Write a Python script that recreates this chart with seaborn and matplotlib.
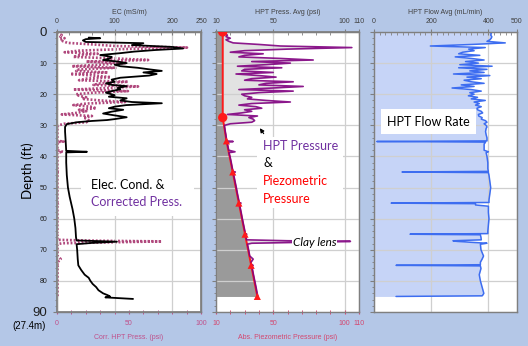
import matplotlib
matplotlib.use("Agg")
import matplotlib.pyplot as plt
from matplotlib.patches import Rectangle
from matplotlib.ticker import MultipleLocator, FixedLocator
import numpy as np
import pandas as pd
import seaborn as sns

# ---------------------------------------------------------------- HPT log (ft)
hpt_depth = [0.0, 0.5, 1.0, 1.5, 2.0, 2.5, 3.0, 3.5, 4.0, 4.5, 5.0, 5.5, 6.0, 6.5,
             7.0, 7.5, 8.0, 8.5, 9.0, 9.5, 10.0, 10.5, 11.0, 11.5, 12.0, 12.5,
             13.0, 13.5, 14.0, 14.5, 15.0, 15.5, 16.0, 16.5, 17.0, 17.5, 18.0,
             18.5, 19.0, 19.5, 20.0, 20.5, 21.0, 21.5, 22.0, 22.5, 23.0, 23.5,
             24.0, 24.5, 25.0, 25.5, 26.0, 26.5, 27.0, 27.5, 28.0, 28.5, 29.0,
             29.5, 30.0,
             30.5, 31.0, 32.0, 33.0, 34.0, 35.0, 35.2, 35.4, 36.0, 38.0, 38.5,
             38.8, 40.0, 42.0, 44.0, 44.8, 45.0, 45.2, 46.0, 48.0, 50.0, 52.0,
             54.0, 54.8, 55.0, 55.2, 55.6, 56.0, 58.0, 60.0, 62.0, 64.0, 64.8,
             65.0, 65.2, 66.0, 66.8, 67.1, 67.3, 67.6, 67.9, 68.2, 70.0, 72.0,
             73.0, 74.0, 74.8, 75.0, 75.2, 76.0, 78.0, 80.0, 82.0, 84.0, 84.6,
             84.8, 85.0]

# HPT pressure average (psi)
hpt_press = [15.0, 16, 18, 17, 20, 17, 19, 22, 40, 55, 105, 60, 30, 20,
             43, 30, 26, 55, 78, 35, 62, 45, 25, 56, 30, 28,
             50, 24, 40, 52, 35, 30, 64, 45, 40, 71, 50,
             26, 64, 40, 28, 30, 35, 32, 45, 62, 35, 26,
             38, 42, 30, 35, 28, 18, 39, 33, 36, 37, 35,
             20, 16.0,
             16.0, 16.2, 16.5, 16.9, 17.2, 17.6, 22.0, 17.7, 18.0, 18.9, 23.3,
             19.0, 19.8, 20.7, 21.5, 21.9, 23.5, 22.0, 22.4, 23.3, 24.2, 25.0,
             25.9, 26.2, 27.5, 26.4, 26.5, 26.7, 27.6, 28.4, 29.3, 30.2, 30.5,
             31.5, 30.7, 31.0, 31.4, 60.0, 104.0, 70.0, 35.0, 32.0, 32.8, 33.6,
             36.0, 34.5, 34.8, 36.0, 35.0, 35.4, 36.2, 37.1, 38.0, 38.8, 39.1,
             39.2, 39.4]

# Corrected HPT pressure (psi)
corr_press = [0.3, 1.3, 3.3, 2.3, 5.3, 2.3, 4.3, 7.3, 25.3, 40.3, 90.3, 45.3, 15.3, 5.3,
              28.3, 15.3, 11.3, 40.3, 63.3, 20.3, 47.3, 30.3, 10.3, 41.3, 15.3, 13.3,
              35.3, 9.3, 25.3, 37.3, 20.3, 15.3, 49.3, 30.3, 25.3, 56.3, 35.3,
              11.3, 49.3, 25.3, 13.3, 15.3, 20.3, 17.3, 30.3, 47.3, 20.3, 11.3,
              23.3, 27.3, 15.3, 20.3, 13.3, 3.3, 24.3, 18.3, 21.3, 22.3, 20.3,
              5.0, 0.9,
              0.3, 0.3, 0.3, 0.3, 0.3, 0.3, 4.7, 0.3, 0.3, 0.3, 4.2,
              0.3, 0.3, 0.3, 0.3, 0.3, 1.8, 0.3, 0.3, 0.3, 0.3, 0.3,
              0.3, 0.3, 1.5, 0.3, 0.3, 0.3, 0.3, 0.3, 0.3, 0.3, 0.3,
              1.2, 0.3, 0.3, 0.3, 28.8, 72.7, 38.6, 3.5, 0.4, 0.4, 0.4,
              2.6, 0.4, 0.4, 1.6, 0.4, 0.4, 0.4, 0.4, 0.4, 0.4, 0.4,
              0.4, 0.4]

# HPT flow average (mL/min)
flow_rate = [405, 410, 408, 412, 410, 405, 395, 459, 343, 197, 389, 331, 350, 310,
             296, 370, 284, 340, 385, 320, 365, 300, 413, 296, 395, 335,
             385, 278, 405, 325, 375, 315, 340, 385, 305, 350, 273,
             340, 375, 335, 350, 330, 362, 340, 389, 350, 368, 355,
             375, 360, 362, 375, 380, 365, 366, 378, 375, 390, 395,
             385, 392,
             395, 392, 390, 392, 395, 395, 10, 390, 385, 385, 400,
             392, 395, 398, 398, 400, 98, 400, 402, 405, 408, 405,
             402, 402, 60, 355, 355, 400, 400, 402, 400, 398, 398,
             126, 372, 374, 375, 276, 290, 340, 395, 372, 374, 383,
             378, 372, 372, 77, 372, 374, 368, 372, 378, 384, 380,
             378, 77]

# ---------------------------------------------------- electrical conductivity
ec_depth = [1.8, 2.0, 2.3, 2.7, 3.2, 3.6, 4.2, 4.8, 5.3, 5.8, 6.3, 6.8, 7.4, 8.0,
            8.5, 9.0, 9.5, 10.0, 10.5, 11.0, 11.5, 12.0, 12.5, 13.0, 13.5, 14.0,
            14.7, 15.3, 16.0, 16.5, 17.0, 17.4, 18.0, 18.4, 19.0, 19.5, 20.3,
            20.8, 21.3, 22.0, 22.5, 22.9, 23.5, 24.0, 24.5, 25.0, 25.6, 26.2,
            26.8, 27.4, 28.0, 28.3, 28.6, 29.0, 29.6, 30.5, 32.0, 35.0, 38.2,
            38.5, 38.7, 42.0, 46.0, 50.0, 53.0, 57.0, 60.0, 63.0, 66.0, 67.0,
            67.4, 67.8, 68.2, 70.0, 73.0, 75.0, 76.5, 78.0, 79.0, 80.0, 81.0,
            82.0, 83.0, 84.0, 84.6, 85.0, 85.3, 85.8]
ec_value = [55, 75, 50, 45, 50, 150, 130, 200, 219, 170, 134, 110, 75, 95,
            92, 80, 105, 121, 100, 110, 140, 160, 182, 150, 173, 160,
            110, 95, 100, 85, 95, 121, 105, 110, 95, 85, 100,
            90, 121, 110, 130, 182, 120, 100, 90, 115, 95, 80,
            100, 121, 100, 87, 60, 35, 17, 14, 14, 15, 16,
            52, 16, 16, 17, 19, 22, 27, 30, 32, 33, 34,
            104, 60, 34, 35, 36, 37, 42, 48, 55, 58, 62,
            68, 72, 80, 88, 92, 84, 132]

# ------------------------------------------------- piezometric profile (psi)
piezo_depth = [0.0, 27.5, 35.0, 45.0, 55.0, 65.0, 75.0, 85.0]
piezo_press = [14.7, 14.7, 17.3, 21.7, 26.0, 30.3, 34.6, 38.9]

hpt = pd.DataFrame({"depth": hpt_depth, "press": hpt_press,
                    "corr": corr_press, "flow": flow_rate})
ec = pd.DataFrame({"depth": ec_depth, "ec": ec_value})
piezo = pd.DataFrame({"depth": piezo_depth, "press": piezo_press})

# ---------------------------------------------------------------- styling
sns.set_theme(style="white")
plt.rcParams["font.family"] = ["Liberation Sans", "DejaVu Sans"]

BG = "#b4c7e7"
SPINE = "#7f7f7f"
GRID = "#cfcfcf"
PINK = "#a8356f"
PINK_TXT = "#c0508a"
PIEZO_TXT = "#d4466e"
PURPLE = "#800080"
PURPLE_TXT = "#7030a0"
RED = "#ff1a1a"
DARKGRAY = "#9a9a9a"
LIGHTGRAY = "#e2e2e2"
FLOWFILL = "#c6d4f7"
FLOWLINE = "#3d6df0"
TICKFS = 5
CALLOUT = ["Lato", "DejaVu Sans"]
CALLOUT_FS = 9

W, H = 528, 346
fig = plt.figure(figsize=(W / 100, H / 100), dpi=100, facecolor=BG)


def px_axes(x0, y0, x1, y1):
    return fig.add_axes([x0 / W, 1 - y1 / H, (x1 - x0) / W, (y1 - y0) / H])


def frame(ax):
    ax.set_facecolor("white")
    for s in ax.spines.values():
        s.set_color(SPINE)
        s.set_linewidth(1.0)
    ax.set_ylim(90, 0)
    ax.yaxis.set_major_locator(MultipleLocator(10))
    ax.yaxis.set_minor_locator(MultipleLocator(2))
    ax.tick_params(axis="y", which="major", direction="out", length=3,
                   width=0.8, color=SPINE, labelleft=False, left=True)
    ax.tick_params(axis="y", which="minor", direction="out", length=1.5,
                   width=0.6, color=SPINE, left=True)
    ax.grid(True, which="major", axis="y", color=GRID, lw=0.9)
    ax.set_axisbelow(True)
    ax.set_ylabel("")


def top_axis(axis_obj, ticks, minor, label):
    axis_obj.set_xticks(ticks)
    axis_obj.xaxis.set_minor_locator(FixedLocator(minor))
    axis_obj.tick_params(axis="x", which="major", direction="inout", length=4,
                         width=0.8, color=SPINE, labelsize=TICKFS,
                         labelcolor="#404040", pad=3, top=True, labeltop=True,
                         bottom=False, labelbottom=False)
    axis_obj.tick_params(axis="x", which="minor", direction="in", length=2.5,
                         width=0.6, color=SPINE, top=True, bottom=False)
    axis_obj.set_xlabel(label, fontsize=TICKFS, color="#404040", labelpad=3)
    axis_obj.xaxis.set_label_position("top")


def bottom_axis(ax, ticks, minor, label, color):
    ax.set_xticks(ticks)
    ax.xaxis.set_minor_locator(FixedLocator(minor))
    ax.tick_params(axis="x", which="major", direction="inout", length=3,
                   width=0.8, color=color, labelsize=TICKFS, labelcolor=color,
                   pad=4, bottom=True, labelbottom=True, top=False,
                   labeltop=False)
    ax.tick_params(axis="x", which="minor", direction="inout", length=2.5,
                   width=0.7, color=color, bottom=True, top=False)
    ax.set_xlabel(label, fontsize=TICKFS, color=color, labelpad=5)


# ------------------------------------------- panel 1: EC and corrected press.
ax1 = px_axes(57, 32, 201, 312)
frame(ax1)
sns.lineplot(data=hpt, x="corr", y="depth", sort=False, estimator=None,
             ax=ax1, color=PINK, lw=1.9, ls=(0, (0.7, 0.7)), alpha=0.9)
ax1.set_xlim(0, 100)
bottom_axis(ax1, [0, 50, 100], list(range(0, 101, 10)),
            "Corr. HPT Press. (psi)", PINK_TXT)
ax1.set_ylim(90, 0)
ax1.tick_params(axis="y", labelleft=True, labelsize=TICKFS, pad=4,
                labelcolor="#202020")
for lab in ax1.get_yticklabels():
    if lab.get_text() in ("0", "90"):
        lab.set_fontsize(9.5)
ax1.set_ylabel("")

ax1t = ax1.twiny()
sns.lineplot(data=ec, x="ec", y="depth", sort=False, estimator=None,
             ax=ax1t, color="black", lw=1.3)
ax1t.set_xlim(0, 250)
ax1t.set_ylim(90, 0)
for s in ax1t.spines.values():
    s.set_color(SPINE)
top_axis(ax1t, [0, 100, 200, 250], list(range(0, 250, 20)), "EC (mS/m)")
ax1t.grid(True, which="major", axis="x", color=GRID, lw=0.9)
ax1t.set_axisbelow(True)

ax1t.add_patch(Rectangle((0.17, 0.343), 0.78, 0.13, transform=ax1t.transAxes,
                         facecolor="white", edgecolor="none", zorder=3))
ax1t.text(0.235, 0.452, "Elec. Cond. &", transform=ax1t.transAxes,
          fontsize=CALLOUT_FS, family=CALLOUT, color="black", va="center",
          zorder=4)
ax1t.text(0.235, 0.392, "Corrected Press.", transform=ax1t.transAxes,
          fontsize=CALLOUT_FS, family=CALLOUT, color=PURPLE_TXT, va="center",
          zorder=4)

# ------------------------------------- panel 2: HPT and piezometric pressure
ax2 = px_axes(216, 32, 359, 312)
frame(ax2)
ax2.fill_betweenx(hpt["depth"], 10, hpt["press"], color=LIGHTGRAY, lw=0,
                  zorder=0.2)
ax2.fill_betweenx(piezo["depth"], 10, piezo["press"], color=DARKGRAY, lw=0,
                  zorder=0.3)
sns.lineplot(data=piezo, x="press", y="depth", sort=False, estimator=None,
             ax=ax2, color=RED, lw=1.4)
sns.lineplot(data=hpt, x="press", y="depth", sort=False, estimator=None,
             ax=ax2, color=PURPLE, lw=1.2, alpha=0.9)
sns.scatterplot(data=piezo.iloc[:2], x="press", y="depth", ax=ax2,
                color=RED, marker="o", s=45, edgecolor="none", zorder=5)
sns.scatterplot(data=piezo.iloc[2:], x="press", y="depth", ax=ax2,
                color=RED, marker="^", s=26, edgecolor="none", zorder=5)
ax2.set_xlim(10, 110)
ax2.set_ylim(90, 0)
ax2.set_ylabel("")
bottom_axis(ax2, [10, 50, 100, 110], list(range(10, 111, 10)),
            "Abs. Piezometric Pressure (psi)", PIEZO_TXT)
ax2.xaxis.set_major_locator(FixedLocator([10, 50, 100, 110]))
ax2.grid(True, which="major", axis="x", color=GRID, lw=0.9)
sec2 = ax2.secondary_xaxis("top")
sec2.spines["top"].set_color(SPINE)
top_axis(sec2, [10, 50, 100, 110], list(range(10, 111, 10)),
         "HPT Press. Avg (psi)")

ax2.add_patch(Rectangle((0.29, 0.37), 0.6, 0.255, transform=ax2.transAxes,
                        facecolor="white", edgecolor="none", zorder=3))
ax2.text(0.33, 0.594, "HPT Pressure", transform=ax2.transAxes,
         fontsize=CALLOUT_FS, family=CALLOUT, color=PURPLE_TXT, va="center",
         zorder=4)
ax2.text(0.33, 0.533, "&", transform=ax2.transAxes, fontsize=CALLOUT_FS,
         family=CALLOUT, color="black", va="center", zorder=4)
ax2.text(0.33, 0.469, "Piezometric", transform=ax2.transAxes,
         fontsize=CALLOUT_FS, family=CALLOUT, color="#ff0000", va="center",
         zorder=4)
ax2.text(0.33, 0.405, "Pressure", transform=ax2.transAxes,
         fontsize=CALLOUT_FS, family=CALLOUT, color="#ff0000", va="center",
         zorder=4)
ax2.annotate("", xy=(39.5, 30.2), xytext=(44.5, 33.4),
             arrowprops=dict(arrowstyle="-|>", color="black", lw=0.8,
                             mutation_scale=6), zorder=6)
ax2.text(63.5, 67.6, "Clay lens", fontsize=8.5, family=CALLOUT,
         style="italic", color="black", va="center", zorder=4,
         bbox=dict(facecolor="white", edgecolor="none", pad=0.5))

# --------------------------------------------------------- panel 3: HPT flow
ax3 = px_axes(374, 32, 517, 312)
frame(ax3)
ax3.fill_betweenx(hpt["depth"], 0, hpt["flow"], color=FLOWFILL, lw=0,
                  zorder=0.2)
sns.lineplot(data=hpt, x="flow", y="depth", sort=False, estimator=None,
             ax=ax3, color=FLOWLINE, lw=1.1)
ax3.set_xlim(0, 500)
ax3.set_ylim(90, 0)
ax3.set_ylabel("")
top_axis(ax3, [0, 200, 400, 500], list(range(0, 501, 20)),
         "HPT Flow Avg (mL/min)")
ax3.grid(True, which="major", axis="x", color=GRID, lw=0.9)
ax3.text(0.09, 0.68, "HPT Flow Rate", transform=ax3.transAxes,
         fontsize=CALLOUT_FS, family=CALLOUT, color="black", va="center",
         zorder=4,
         bbox=dict(boxstyle="square,pad=0.5", facecolor="white",
                   edgecolor="none"))

# ------------------------------------------------------------ depth caption
fig.text(28 / W, 1 - 171 / H, "Depth (ft)", rotation=90, ha="center",
         va="center", fontsize=9.5, family=CALLOUT, color="black")
fig.text(29 / W, 1 - 326 / H, "(27.4m)", ha="center", va="center",
         fontsize=7, color="black")

fig.savefig("out.png", dpi=100, facecolor=BG)
